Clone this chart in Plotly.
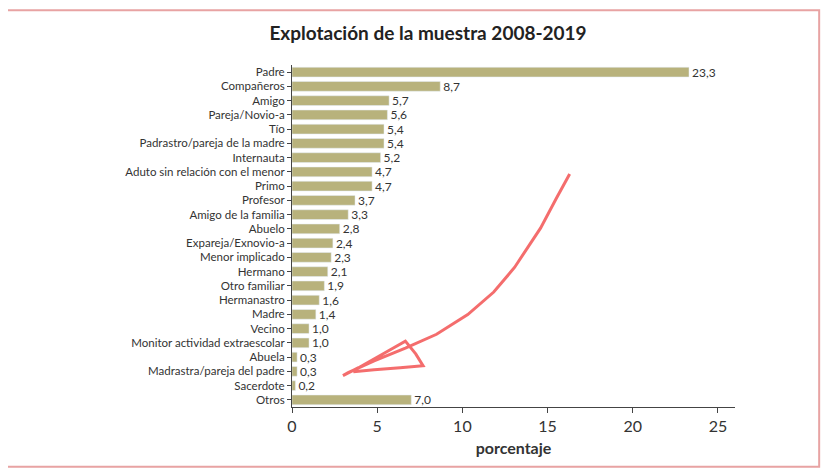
import plotly.graph_objects as go

categorias = ['Padre', 'Compañeros', 'Amigo', 'Pareja/Novio-a', 'Tío', 'Padrastro/pareja de la madre',
              'Internauta', 'Aduto sin relación con el menor', 'Primo', 'Profesor', 'Amigo de la familia',
              'Abuelo', 'Expareja/Exnovio-a', 'Menor implicado', 'Hermano', 'Otro familiar', 'Hermanastro',
              'Madre', 'Vecino', 'Monitor actividad extraescolar', 'Abuela', 'Madrastra/pareja del padre',
              'Sacerdote', 'Otros']
valores = [23.3, 8.7, 5.7, 5.6, 5.4, 5.4, 5.2, 4.7, 4.7, 3.7, 3.3, 2.8, 2.4, 2.3, 2.1, 1.9, 1.6,
           1.4, 1.0, 1.0, 0.3, 0.3, 0.2, 7.0]
etiquetas = [f'{v:.1f}'.replace('.', ',') for v in valores]

# trazo rojo a mano (pixeles de la captura)
garabato_px = [(558, 175), (545, 200), (530, 230), (505, 270), (485, 295), (460, 318), (430, 338),
               (400, 352), (370, 365), (345, 377), (340, 380), (355, 372), (380, 357), (400, 345),
               (410, 358), (417, 370), (395, 372), (370, 374), (350, 376)]

fig = go.Figure(go.Bar(
    x=valores, y=categorias, orientation='h',
    marker_color='#b8b27c', width=0.68,
    text=etiquetas, textposition='outside', cliponaxis=False, constraintext='none',
    textfont=dict(size=12, color='#333333'),
))

ruta = 'M ' + ' L '.join(f'{(px - 291) / 426:.4f},{(412 - py) / 348:.4f}' for px, py in garabato_px)
fig.add_shape(type='path', xref='paper', yref='paper', path=ruta,
              line=dict(color='rgba(240,60,60,0.75)', width=3))
fig.add_shape(type='rect', xref='paper', yref='paper', x0=-0.66, x1=1.19, y0=-0.175, y1=1.16,
              line=dict(color='#e8a3a3', width=2))

fig.update_layout(
    width=840, height=473, plot_bgcolor='white', paper_bgcolor='white',
    margin=dict(l=284, r=113, t=57, b=74), showlegend=False,
    font=dict(family='Lato', color='#333333'),
    title=dict(text='<b>Explotación de la muestra 2008-2019</b>', x=0.5, xanchor='center',
               y=0.96, font=dict(size=19, color='#222222')),
    bargap=0.3,
)
fig.update_xaxes(range=[0, 26], tickvals=[0, 5, 10, 15, 20, 25], showline=True, linecolor='#444444',
                 ticks='outside', ticklen=5, tickcolor='#444444', showgrid=False, zeroline=False,
                 tickfont=dict(size=16), title=dict(text='<b>porcentaje</b>', font=dict(size=16), standoff=8))
fig.update_yaxes(autorange='reversed', showline=True, linecolor='#444444', ticks='outside', ticklen=4,
                 tickcolor='#444444', tickfont=dict(size=11.5), showgrid=False)

fig.write_html('out.html')
